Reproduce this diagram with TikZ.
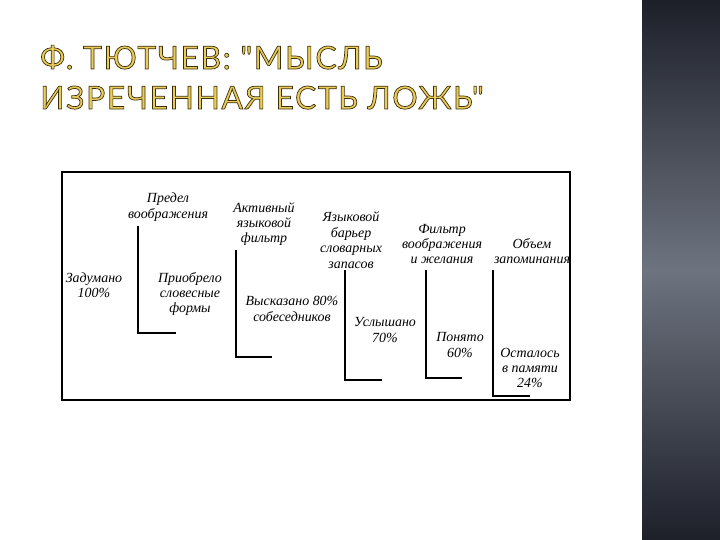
\documentclass[tikz,border=0pt]{standalone}
\usepackage{fontspec}
\setmainfont{Liberation Serif}
\newfontfamily\titlefont[LetterSpace=5]{Lato}
\definecolor{gold}{HTML}{EACB5C}
\definecolor{goldedge}{HTML}{3A2E08}
\definecolor{panelA}{HTML}{1D2029}
\definecolor{panelB}{HTML}{6D737F}
\newcommand{\outlinetext}[1]{\special{pdf:literal direct 2 Tr 0.7 w 0.227 0.18 0.03 RG}#1\special{pdf:literal direct 0 Tr}}
\tikzset{
  lbl/.style={font=\itshape\fontsize{14}{15.5}\selectfont, align=center, inner sep=0pt},
  bracketline/.style={line width=2.3bp, line cap=butt, line join=miter},
  frameline/.style={line width=1.8bp},
  ttl/.style={anchor=base west, inner sep=0pt, text=gold, font=\titlefont\fontsize{32}{32}\selectfont}
}
\begin{document}
\begin{tikzpicture}[x=1bp,y=-1bp]
\useasboundingbox (0,0) rectangle (720,540);
\fill[white] (0,0) rectangle (720,540);
\shade[top color=panelA, bottom color=panelA, middle color=panelB] (642,0) rectangle (720,540);

\node[ttl] (t1) at (40,69) {\outlinetext{Ф. ТЮТЧЕВ: "МЫСЛЬ}};
\node[ttl] (t2) at (40,109) {\outlinetext{ИЗРЕЧЕННАЯ ЕСТЬ ЛОЖЬ"}};

\draw[frameline] (62,172) rectangle (570,400);

\node[lbl] (pr) at (168,207) {Предел\\воображения};
\node[lbl] (zd) at (94,285) {Задумано\\100\%};
\node[lbl] (pf) at (190,294) {Приобрело\\словесные\\формы};
\node[lbl] (af) at (264,224) {Активный\\языковой\\фильтр};
\node[lbl] (vs) at (292,309) {Высказано 80\%\\собеседников};
\node[lbl] (yb) at (351,240) {Языковой\\барьер\\словарных\\запасов};
\node[lbl] (us) at (385,330) {Услышано\\70\%};
\node[lbl] (fv) at (442,244) {Фильтр\\воображения\\и желания};
\node[lbl] (ob) at (532,251) {Объем\\запоминания};
\node[lbl] (pn) at (460,345) {Понято\\60\%};
\node[lbl] (os) at (530,368) {Осталось\\в памяти\\24\%};

\draw[bracketline] (138,226) -- (138,333) -- (176,333);
\draw[bracketline] (236,250) -- (236,357) -- (272,357);
\draw[bracketline] (345,270) -- (345,380) -- (382,380);
\draw[bracketline] (426,270) -- (426,378) -- (462,378);
\draw[bracketline] (493,270) -- (493,396) -- (530,396);
\end{tikzpicture}
\end{document}
